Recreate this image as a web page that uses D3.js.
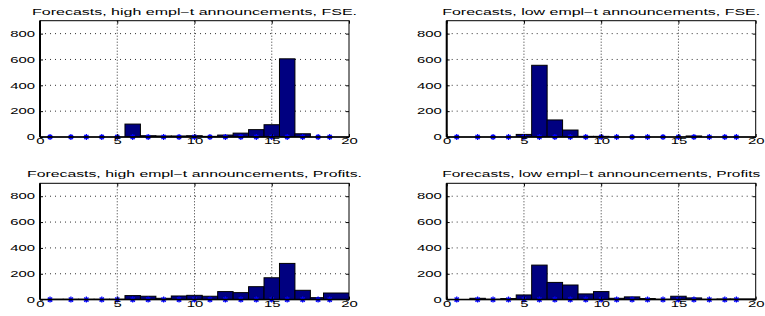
<!DOCTYPE html>
<html>
<head>
<meta charset="utf-8">
<script src="https://cdn.jsdelivr.net/npm/d3@7"></script>
<style>
  body { margin: 0; background: #fff; }
  text { font-family: "Liberation Sans", Arial, sans-serif; fill: #000; }
</style>
</head>
<body>
<div id="chart"></div>
<script>
// panel titles
var titles = [
  "Forecasts, high empl\u2212t announcements, FSE.",
  "Forecasts, low empl\u2212t announcements, FSE.",
  "Forecasts, high empl\u2212t announcements, Profits.",
  "Forecasts, low empl\u2212t announcements, Profits"
];

// histogram bin edges (last bin is wider, runs past the axis)
var binEdges = [0.5, 1.5, 2.5, 3.5, 4.5, 5.5, 6.5, 7.5, 8.5, 9.5, 10.5,
                11.5, 12.5, 13.5, 14.5, 15.5, 16.5, 17.5, 18.35, 20.5];

// counts per bin
var highFSE     = [0, 0, 0, 0, 0, 100, 10, 8, 8, 10, 5, 15, 30, 57, 95, 605, 25, 0, 0];
var lowFSE      = [0, 0, 0, 0, 20, 555, 132, 54, 5, 5, 0, 0, 0, 0, 0, 8, 0, 0, 0];
var highProfits = [3, 3, 3, 3, 3, 31, 26, 10, 28, 33, 26, 62, 54, 100, 169, 280, 72, 15, 51];
var lowProfits  = [0, 10, 3, 8, 36, 267, 133, 113, 44, 62, 10, 21, 8, 3, 26, 13, 3, 5, 5];

// star markers along the x axis
var starX = [0.65, 2, 3, 4, 5, 6, 7, 8, 9, 10, 11, 12, 13, 14, 15, 16, 17, 18, 18.75];

var xTicks = [0, 5, 10, 15, 20];
var yTicks = [0, 200, 400, 600, 800];

var series = [highFSE, lowFSE, highProfits, lowProfits];

var width = 765, height = 316;
var pw = 309, ph = 116.3;
var origins = [[40, 20.7], [446.7, 20.7], [40, 183.3], [446.7, 183.3]];
var titleWidths = [325, 318, 335, 318];
var sx = 1.75; // horizontal stretch of the tick labels

var svg = d3.select("#chart").append("svg")
  .attr("width", width).attr("height", height);

var x = d3.scaleLinear().domain([0, 20]).range([0, pw]);
var y = d3.scaleLinear().domain([0, 900]).range([ph, 0]);

var star = function(r) {
  var d = r * Math.SQRT1_2;
  return "M" + -r + ",0L" + r + ",0M0," + -r + "L0," + r +
    "M" + -d + "," + -d + "L" + d + "," + d + "M" + -d + "," + d + "L" + d + "," + -d;
};

series.forEach(function(vals, i) {
  var g = svg.append("g").attr("transform", "translate(" + origins[i][0] + "," + origins[i][1] + ")");

  g.append("clipPath").attr("id", "clip" + i)
    .append("rect").attr("width", pw).attr("height", ph);

  // dotted grid
  g.selectAll(".hgrid").data(yTicks.slice(1)).enter().append("line")
    .attr("x1", 0).attr("x2", pw)
    .attr("y1", function(d) { return y(d); }).attr("y2", function(d) { return y(d); })
    .attr("stroke", "#333").attr("stroke-width", 1).attr("stroke-dasharray", "1,4");
  g.selectAll(".vgrid").data(xTicks.slice(1, -1)).enter().append("line")
    .attr("y1", 0).attr("y2", ph)
    .attr("x1", function(d) { return x(d); }).attr("x2", function(d) { return x(d); })
    .attr("stroke", "#333").attr("stroke-width", 1).attr("stroke-dasharray", "1,2");

  // bars
  var bins = vals.map(function(v, j) {
    return { x0: binEdges[j], x1: binEdges[j + 1], n: v };
  }).filter(function(d) { return d.n > 0; });

  g.append("g").attr("clip-path", "url(#clip" + i + ")")
    .selectAll("rect").data(bins).enter().append("rect")
    .attr("x", function(d) { return x(d.x0); })
    .attr("width", function(d) { return x(d.x1) - x(d.x0); })
    .attr("y", function(d) { return y(d.n); })
    .attr("height", function(d) { return y(0) - y(d.n); })
    .attr("fill", "#000080").attr("stroke", "#000").attr("stroke-width", 1);

  // stars
  g.selectAll(".star").data(starX).enter().append("path")
    .attr("transform", function(d) { return "translate(" + x(d) + "," + y(0) + ")"; })
    .attr("d", star(3))
    .attr("stroke", "#0000ff").attr("stroke-width", 1.3).attr("fill", "none");

  // axes with inward ticks
  var xb = g.append("g").attr("transform", "translate(0," + ph + ")")
    .call(d3.axisBottom(x).tickValues(xTicks).tickSize(-3).tickPadding(1));
  xb.selectAll("text").attr("transform", "scale(" + sx + ",1)").style("font-size", "8.5px");
  g.append("g").call(d3.axisTop(x).tickValues(xTicks).tickSize(-3).tickFormat(""));

  var yl = g.append("g")
    .call(d3.axisLeft(y).tickValues(yTicks).tickSize(-3).tickPadding(0));
  yl.selectAll("text").attr("x", -5 / sx).attr("transform", "scale(" + sx + ",1)").style("font-size", "8.5px");
  g.append("g").attr("transform", "translate(" + pw + ",0)")
    .call(d3.axisRight(y).tickValues(yTicks).tickSize(-3).tickFormat(""));

  g.selectAll(".domain").remove();
  g.selectAll(".tick line").attr("stroke", "#000");

  // frame
  g.append("rect").attr("width", pw).attr("height", ph)
    .attr("fill", "none").attr("stroke", "#000").attr("stroke-width", 1);
  g.append("line").attr("x1", 0).attr("x2", 0).attr("y1", 0).attr("y2", ph)
    .attr("stroke", "#000").attr("stroke-width", 2);
  g.append("line").attr("x1", 0).attr("x2", pw).attr("y1", ph).attr("y2", ph)
    .attr("stroke", "#000").attr("stroke-width", 1.5);

  // title
  g.append("text")
    .attr("x", pw / 2).attr("y", -6)
    .attr("text-anchor", "middle")
    .attr("textLength", titleWidths[i])
    .attr("lengthAdjust", "spacingAndGlyphs")
    .style("font-size", "8.5px")
    .text(titles[i]);
});
</script>
</body>
</html>
